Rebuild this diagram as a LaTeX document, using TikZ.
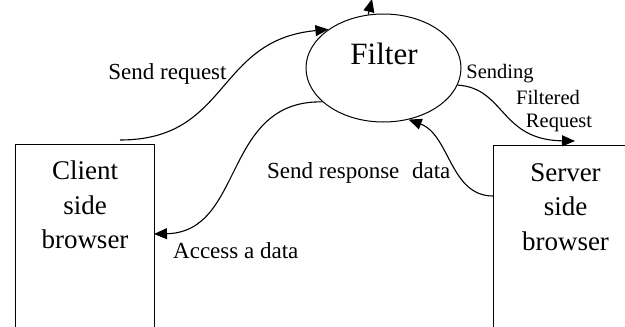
\documentclass[tikz,border=0pt]{standalone}
\usepackage{fontspec}
\setmainfont{Liberation Serif}
\usetikzlibrary{shapes.geometric,arrows.meta,positioning}

\begin{document}
\begin{tikzpicture}[x=1pt,y=-1pt,
    every node/.style={inner sep=0pt},
    flow/.style={draw=black, line width=1.1pt, -{Triangle[length=13pt,width=11pt]}},
    browserbox/.style={draw=black, line width=1pt, anchor=north west, minimum height=230pt},
    boxtext/.style={align=center, font=\fontsize{27}{34.5}\selectfont},
    flowtext/.style={font=\fontsize{23}{27}\selectfont},
    smalltext/.style={font=\fontsize{20.5}{23}\selectfont}]
  \useasboundingbox (0,0) rectangle (625,327);

  % filter in the middle, browsers on both sides
  \node[draw=black, line width=1pt, ellipse, minimum width=155pt, minimum height=108pt] (filter) at (383.5,68) {};
  \node[anchor=base, font=\fontsize{31}{36}\selectfont] (filtertxt) at (384,64) {Filter};
  \node[browserbox, minimum width=139pt] (client) at (15,144) {};
  \node[browserbox, minimum width=144pt] (server) at (493,145) {};
  \node[boxtext, below=17pt of client.north] (clienttxt) {Client\\side\\browser};
  \node[boxtext, below=18pt of server.north] (servertxt) {Server\\side\\browser};

  % loose ends of the connectors
  \coordinate (reqstart) at (120,140);
  \coordinate (resstart) at (493,196);
  \coordinate (fwdend) at (575,141);
  \coordinate (accend) at (154,234);
  \coordinate (upend) at (372,-1);

  % connectors
  \draw[flow] (reqstart) .. controls (230,140) and (215,40) .. (filter.145);
  \draw[flow] (filter.-13) .. controls (505,88) and (500,140) .. (fwdend);
  \draw[flow] (resstart) .. controls (450,196) and (450,135) .. (filter.-64);
  \draw[flow] (filter.209) .. controls (222,100) and (245,232) .. (accend);
  \draw[flow] (filter.106) -- (upend);

  % labels
  \node[flowtext, anchor=base] (reqlbl) at (167.5,79) {Send request};
  \node[smalltext, anchor=base] (sendlbl) at (500,78) {Sending};
  \node[smalltext, anchor=base] (filtlbl) at (548,104) {Filtered};
  \node[smalltext, anchor=base] (rqlbl) at (559,127) {Request};
  \node[flowtext, anchor=base west] (reslbl) at (267,178) {Send response\hspace{0.3em} data};
  \node[flowtext, anchor=base west] (acclbl) at (173,258) {Access a data};
\end{tikzpicture}
\end{document}
